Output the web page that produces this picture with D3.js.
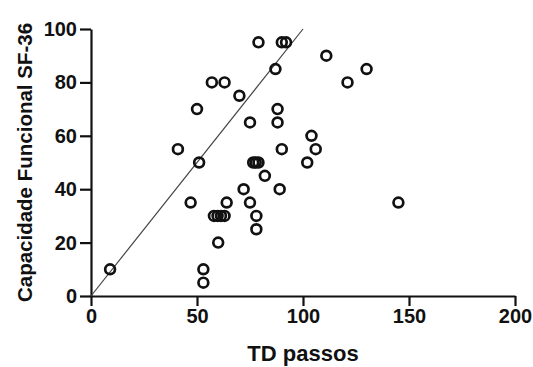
<!DOCTYPE html>
<html>
<head>
<meta charset="utf-8">
<script src="https://cdn.jsdelivr.net/npm/d3@7"></script>
<style>
  html, body { margin: 0; padding: 0; background: #fff; }
  svg { display: block; }
  .axis text { font-family: "Liberation Sans", Arial, sans-serif; font-weight: bold; font-size: 20px; fill: #111; }
  .axis path, .axis line { stroke: #111; stroke-width: 2.2px; }
  .title { font-family: "Liberation Sans", Arial, sans-serif; font-weight: bold; fill: #111; }
</style>
</head>
<body>
<div id="chart"></div>
<script>
// ─── Daten ────────────────────────────────────────────────────────────────────
const tdPassos = [9, 41, 47, 50, 51, 53, 53, 57, 63, 60,
                  58, 59.7, 61.3, 63, 64, 70, 72, 75, 75, 78,
                  78, 76.5, 77.7, 79, 79, 82, 87, 88, 88, 89,
                  90, 90, 92, 102, 104, 106, 111, 121, 130, 145];
const capFuncional = [10, 55, 35, 70, 50, 10, 5, 80, 80, 20,
                      30, 30, 30, 30, 35, 75, 40, 65, 35, 30,
                      25, 50, 50, 50, 95, 45, 85, 65, 70, 40,
                      55, 95, 95, 50, 60, 55, 90, 80, 85, 35];
const xTicks = [0, 50, 100, 150, 200];
const yTicks = [0, 20, 40, 60, 80, 100];
const identityLine = [[0, 0], [100, 100]];

const points = tdPassos.map((x, i) => ({ x, y: capFuncional[i] }));

// ─── Layout ───────────────────────────────────────────────────────────────────
const W = 533, H = 367;
const svg = d3.select('#chart').append('svg')
  .attr('width', W)
  .attr('height', H);

const xScale = d3.scaleLinear().domain([0, 200]).range([91, 515]);
const yScale = d3.scaleLinear().domain([0, 100]).range([296, 29]);

// Achsen
svg.append('g')
  .attr('class', 'axis x-axis')
  .attr('transform', `translate(0, ${yScale(0)})`)
  .call(d3.axisBottom(xScale).tickValues(xTicks).tickSize(10).tickSizeOuter(0).tickPadding(3));

svg.append('g')
  .attr('class', 'axis y-axis')
  .attr('transform', `translate(${xScale(0)}, 0)`)
  .call(d3.axisLeft(yScale).tickValues(yTicks).tickSize(11).tickSizeOuter(0).tickPadding(3));

// Identitätslinie
svg.append('path')
  .datum(identityLine)
  .attr('fill', 'none')
  .attr('stroke', '#444')
  .attr('stroke-width', 1.2)
  .attr('d', d3.line().x(d => xScale(d[0])).y(d => yScale(d[1])));

// Punkte
svg.selectAll('circle.pt')
  .data(points)
  .enter()
  .append('circle')
  .attr('class', 'pt')
  .attr('cx', d => xScale(d.x))
  .attr('cy', d => yScale(d.y))
  .attr('r', 4.9)
  .attr('fill', 'none')
  .attr('stroke', '#111')
  .attr('stroke-width', 2.7);

// Achsentitel
svg.append('text')
  .attr('class', 'title')
  .attr('x', (xScale(0) + xScale(200)) / 2)
  .attr('y', 361)
  .attr('text-anchor', 'middle')
  .attr('font-size', 22)
  .text('TD passos');

svg.append('text')
  .attr('class', 'title')
  .attr('transform', `translate(32, ${(yScale(0) + yScale(100)) / 2}) rotate(-90)`)
  .attr('text-anchor', 'middle')
  .attr('font-size', 20.5)
  .text('Capacidade Funcional SF-36');
</script>
</body>
</html>
